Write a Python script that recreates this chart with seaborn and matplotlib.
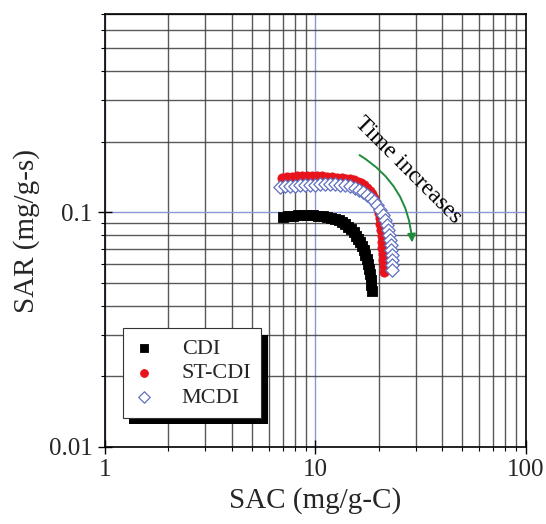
import numpy as np
import pandas as pd
import matplotlib
matplotlib.use("Agg")
import matplotlib.pyplot as plt
import matplotlib.ticker as mticker
from matplotlib.patches import FancyArrowPatch
import matplotlib.patheffects as pe
import seaborn as sns

# ---- data ----
cdi_sac = [7.04, 7.44, 7.86, 8.30, 8.77, 9.26, 9.78, 10.33, 10.92, 11.41, 11.92, 12.45,
           12.95, 13.45, 13.90, 14.35, 14.80, 15.20, 15.60, 15.98, 16.35, 16.70, 17.00,
           17.27, 17.52, 17.73, 17.93, 18.12, 18.30, 18.45, 18.58]
cdi_sar = [0.0959, 0.0963, 0.0967, 0.0970, 0.0972, 0.0972, 0.0970, 0.0967, 0.0962, 0.0957,
           0.0950, 0.0940, 0.0927, 0.0910, 0.0892, 0.0870, 0.0846, 0.0822, 0.0797, 0.0772,
           0.0745, 0.0716, 0.0688, 0.0660, 0.0631, 0.0603, 0.0574, 0.0545, 0.0517, 0.0490,
           0.0462]

stcdi_sac = [6.97, 7.36, 7.77, 8.21, 8.67, 9.16, 9.68, 10.22, 10.80, 11.41, 12.05, 12.73,
             13.45, 14.05, 14.68, 15.34, 15.94, 16.56, 17.11, 17.69, 18.18, 18.68, 19.10,
             19.48, 19.78, 20.04, 20.24, 20.39, 20.53, 20.64, 20.75, 20.84, 20.94, 21.03,
             21.10, 21.15]
stcdi_sar = [0.1402, 0.1409, 0.1416, 0.1423, 0.1423, 0.1430, 0.1430, 0.1430, 0.1423, 0.1416,
             0.1409, 0.1402, 0.1395, 0.1389, 0.1382, 0.1368, 0.1348, 0.1329, 0.1303, 0.1272,
             0.1235, 0.1193, 0.1147, 0.1098, 0.1045, 0.0995, 0.0943, 0.0889, 0.0838, 0.0791,
             0.0745, 0.0703, 0.0663, 0.0625, 0.0589, 0.0556]

mcdi_sac = [6.81, 7.20, 7.60, 8.03, 8.48, 8.96, 9.47, 10.00, 10.56, 11.16, 11.79, 12.45,
            13.15, 13.89, 14.68, 15.43, 16.20, 16.93, 17.69, 18.38, 19.10, 19.74, 20.39,
            20.96, 21.42, 21.85, 22.19, 22.46, 22.68, 22.86, 23.01, 23.11, 23.19, 23.21, 23.21]
mcdi_sar = [0.1284, 0.1290, 0.1297, 0.1300, 0.1303, 0.1307, 0.1309, 0.1312, 0.1316, 0.1316,
            0.1316, 0.1316, 0.1312, 0.1303, 0.1290, 0.1274, 0.1249, 0.1222, 0.1190, 0.1155,
            0.1114, 0.1071, 0.1025, 0.0976, 0.0929, 0.0885, 0.0843, 0.0802, 0.0764, 0.0727,
            0.0693, 0.0659, 0.0628, 0.0598, 0.0569]

series_names = ["CDI", "ST-CDI", "MCDI"]
x_ticks = [1, 10, 100]
x_tick_labels = ["1", "10", "100"]
y_ticks = [0.01, 0.1]
y_tick_labels = ["0.01", "0.1"]

# ---- style ----
sns.set_theme(style="ticks")
plt.rcParams["font.family"] = ["Liberation Serif", "DejaVu Serif"]

fig = plt.figure(figsize=(5.46, 5.24), dpi=100)
ax = fig.add_axes([0.192, 0.147, 0.771, 0.826])

df_cdi = pd.DataFrame({"SAC": cdi_sac, "SAR": cdi_sar})
df_st = pd.DataFrame({"SAC": stcdi_sac, "SAR": stcdi_sar})
df_m = pd.DataFrame({"SAC": mcdi_sac, "SAR": mcdi_sar})

sns.scatterplot(data=df_cdi, x="SAC", y="SAR", ax=ax, marker="s", s=52,
                color="black", edgecolor="black", linewidth=0.6, label=series_names[0], zorder=3)
sns.scatterplot(data=df_st, x="SAC", y="SAR", ax=ax, marker="o", s=44,
                color="#e8141c", edgecolor="#e8141c", linewidth=0.6, label=series_names[1], zorder=4)
sns.scatterplot(data=df_m, x="SAC", y="SAR", ax=ax, marker="D", s=46,
                facecolor="white", edgecolor="#6070c0", linewidth=0.9, label=series_names[2], zorder=5)

ax.set_xscale("log")
ax.set_yscale("log")
ax.set_xlim(1, 100)
ax.set_ylim(0.01, 0.7)

ax.xaxis.set_major_locator(mticker.FixedLocator(x_ticks))
ax.xaxis.set_major_formatter(mticker.FixedFormatter(x_tick_labels))
ax.yaxis.set_major_locator(mticker.FixedLocator(y_ticks))
ax.yaxis.set_major_formatter(mticker.FixedFormatter(y_tick_labels))
ax.xaxis.set_minor_locator(mticker.LogLocator(base=10, subs=np.arange(2, 10)))
ax.yaxis.set_minor_locator(mticker.LogLocator(base=10, subs=np.arange(2, 10)))
ax.xaxis.set_minor_formatter(mticker.NullFormatter())
ax.yaxis.set_minor_formatter(mticker.NullFormatter())

ax.grid(True, which="minor", color="#3c3c3c", linewidth=1.0, alpha=0.85, zorder=0)
ax.grid(True, which="major", color="#8a96d8", linewidth=1.0, zorder=0)
ax.set_axisbelow(True)

for sp in ax.spines.values():
    sp.set_color("black")
    sp.set_linewidth(1.2)

ax.tick_params(which="major", direction="inout", length=10, width=1.0, color="black",
               labelsize=18, pad=4)
ax.tick_params(which="minor", direction="out", length=3, width=0.8, color="black")

ax.set_xlabel("SAC (mg/g-C)", fontsize=21, labelpad=4)
ax.set_ylabel("SAR (mg/g-s)", fontsize=21, labelpad=6)

# legend
leg = ax.legend(loc="lower left", bbox_to_anchor=(0.043, 0.067), borderaxespad=0,
                frameon=True, fancybox=False, fontsize=16, handlelength=1.0,
                handletextpad=1.2, borderpad=0.45, labelspacing=0.18, framealpha=1)
for h, sz in zip(leg.legend_handles, [40, 32, 34]):
    h.set_sizes([sz])
frame = leg.get_frame()
frame.set_edgecolor("#333333")
frame.set_linewidth(0.8)
frame.set_path_effects([pe.SimplePatchShadow(offset=(4.5, -4.5), shadow_rgbFace="black", alpha=1.0),
                        pe.Normal()])

# annotation: curved arrow + text
arrow = FancyArrowPatch((15.8, 0.178), (28.9, 0.0724), connectionstyle="arc3,rad=-0.27",
                        arrowstyle="-|>", mutation_scale=12, color="#1e8c3c", linewidth=1.4,
                        zorder=6)
ax.add_patch(arrow)
ax.text(27.7, 0.151, "Time increases", rotation=-45, rotation_mode="anchor",
        ha="center", va="center", fontsize=17, color="black", zorder=6)

fig.savefig("out.png", dpi=100)
